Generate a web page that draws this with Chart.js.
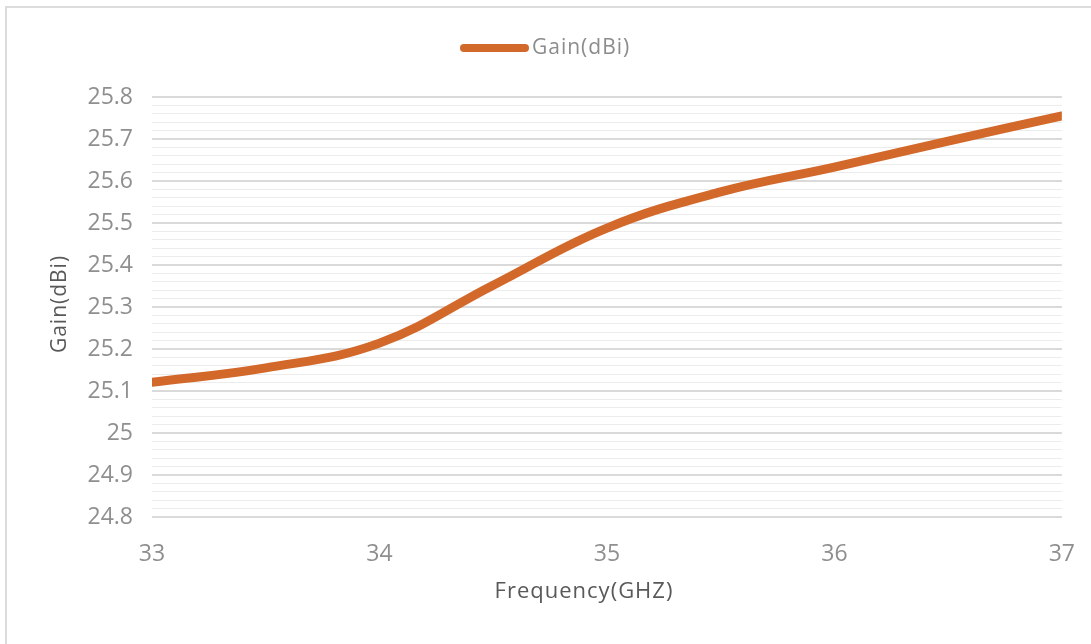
<!DOCTYPE html>
<html>
<head>
<meta charset="utf-8">
<script src="https://cdn.jsdelivr.net/npm/chart.js@4"></script>
<style>
html,body{margin:0;padding:0;background:#fff;}
#wrap{width:1091px;height:644px;position:relative;}
</style>
</head>
<body>
<div id="wrap"><canvas id="c" width="1091" height="644"></canvas></div>
<script>
const frequency = [33, 33.5, 34, 34.5, 35, 35.5, 36, 36.5, 37];
const gain = [25.121, 25.155, 25.214, 25.352, 25.488, 25.574, 25.633, 25.695, 25.755];
const seriesName = 'Gain(dBi)';
const xTitle = 'Frequency(GHZ)';
const yTitle = 'Gain(dBi)';
const lineColor = '#D2692B';
const FONT = '"Open Sans", "Noto Sans", sans-serif';

const decor = {
  id: 'decor',
  afterDraw(chart) {
    const ctx = chart.ctx;
    ctx.save();
    // chart border
    ctx.strokeStyle = '#dcdcdc';
    ctx.lineWidth = 2;
    ctx.beginPath();
    ctx.moveTo(6, 644); ctx.lineTo(6, 7); ctx.lineTo(1091, 7);
    ctx.stroke();
    // legend
    ctx.strokeStyle = lineColor;
    ctx.lineWidth = 8;
    ctx.lineCap = 'round';
    ctx.beginPath();
    ctx.moveTo(464, 48); ctx.lineTo(525, 48);
    ctx.stroke();
    ctx.fillStyle = '#8c8c8c';
    ctx.font = '21px ' + FONT;
    ctx.letterSpacing = '1px';
    ctx.textAlign = 'left';
    ctx.textBaseline = 'middle';
    ctx.fillText(seriesName, 532, 48);
    // x title
    ctx.fillStyle = '#595959';
    ctx.font = '22px ' + FONT;
    ctx.textAlign = 'center';
    ctx.fillText(xTitle, 584, 592);
    // y title
    ctx.translate(60, 304);
    ctx.rotate(-Math.PI / 2);
    ctx.font = '21px ' + FONT;
    ctx.fillText(yTitle, 0, 0);
    ctx.restore();
  }
};

new Chart(document.getElementById('c'), {
  type: 'line',
  data: {
    datasets: [{
      label: seriesName,
      data: frequency.map((f, i) => ({x: f, y: gain[i]})),
      borderColor: lineColor,
      backgroundColor: lineColor,
      borderWidth: 9,
      pointRadius: 0,
      tension: 0.4,
      borderCapStyle: 'round'
    }]
  },
  options: {
    responsive: false,
    animation: false,
    layout: {padding: {top: 97, right: 23, left: 0, bottom: 0}},
    plugins: {legend: {display: false}, tooltip: {enabled: false}},
    scales: {
      x: {
        type: 'linear', min: 33, max: 37,
        grid: {display: false},
        border: {display: false},
        ticks: {stepSize: 1, padding: 16, color: '#8f8f8f', font: {family: FONT, size: 23}},
        afterFit(s) { s.height = 127; }
      },
      y: {
        min: 24.8, max: 25.8,
        border: {display: false},
        grid: {
          drawTicks: false,
          color: c => (Math.round(c.tick.value * 50) % 5 === 0) ? '#dadada' : '#ececec',
          lineWidth: c => (Math.round(c.tick.value * 50) % 5 === 0) ? 2 : 1
        },
        ticks: {
          stepSize: 0.02, autoSkip: false, padding: 19, color: '#8f8f8f',
          font: {family: FONT, size: 23},
          callback: v => (Math.round(v * 50) % 5 === 0) ? String(Number(v.toFixed(1))) : ''
        },
        afterFit(s) { s.width = 152; }
      }
    }
  },
  plugins: [decor]
});
</script>
</body>
</html>
